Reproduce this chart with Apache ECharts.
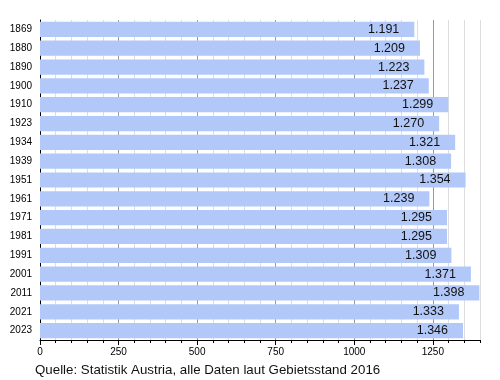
<!DOCTYPE html>
<html><head><meta charset="utf-8">
<script src="https://cdn.jsdelivr.net/npm/echarts@6/dist/echarts.min.js"></script>
<style>html,body{margin:0;padding:0;background:#fff}#c{width:500px;height:380px}</style>
</head><body><div id="c"></div>
<script>
const years = ['1869','1880','1890','1900','1910','1923','1934','1939','1951','1961','1971','1981','1991','2001','2011','2021','2023'];
const population = [1191,1209,1223,1237,1299,1270,1321,1308,1354,1239,1295,1295,1309,1371,1398,1333,1346];
const sourceText = 'Quelle: Statistik Austria, alle Daten laut Gebietsstand 2016';
const FONT = '"Liberation Sans", Arial, sans-serif';
const fmt = v => { const s = String(v); return s.length > 3 ? s.slice(0, s.length-3) + '.' + s.slice(-3) : s; };

const chart = echarts.init(document.getElementById('c'), null, {renderer:'canvas'});
chart.setOption({
  animation:false,
  textStyle:{fontFamily:FONT},
  grid:{left:40,right:20,top:20,bottom:40},
  xAxis:[{
    type:'value', min:0, max:1400, interval:50, position:'bottom',
    axisLine:{show:true,lineStyle:{color:'#000',width:1}},
    axisTick:{show:true,length:3,lineStyle:{color:'#000'}},
    axisLabel:{show:false},
    splitLine:{show:true,lineStyle:{color:['#999','#ddd','#ddd','#ddd','#ddd'],width:1}}
  },{
    type:'value', min:0, max:1400, interval:250, position:'bottom',
    axisLine:{show:false},
    axisTick:{show:true,length:5,lineStyle:{color:'#000'}},
    axisLabel:{show:true,showMaxLabel:false,color:'#000',fontSize:10,fontFamily:FONT,margin:7,
      formatter:v=>String(v)},
    splitLine:{show:false}
  }],
  yAxis:{
    type:'category', data:years, inverse:true,
    axisLine:{show:true,lineStyle:{color:'#000',width:1}},
    axisTick:{show:false},
    axisLabel:{color:'#000',fontSize:10,fontFamily:FONT,margin:8},
    splitLine:{show:false}
  },
  series:[{
    type:'bar', data:population, xAxisIndex:0,
    barCategoryGap:'19%',
    itemStyle:{color:'#b1c8f9'},
    label:{show:true,position:'insideRight',distance:15,color:'#111',fontSize:12.5,fontFamily:FONT,
      formatter:p=>fmt(p.value)}
  }],
  graphic:[{type:'text',left:35,top:364,style:{text:sourceText,fill:'#111',font:'13.3px '+FONT}}]
});
</script></body></html>
